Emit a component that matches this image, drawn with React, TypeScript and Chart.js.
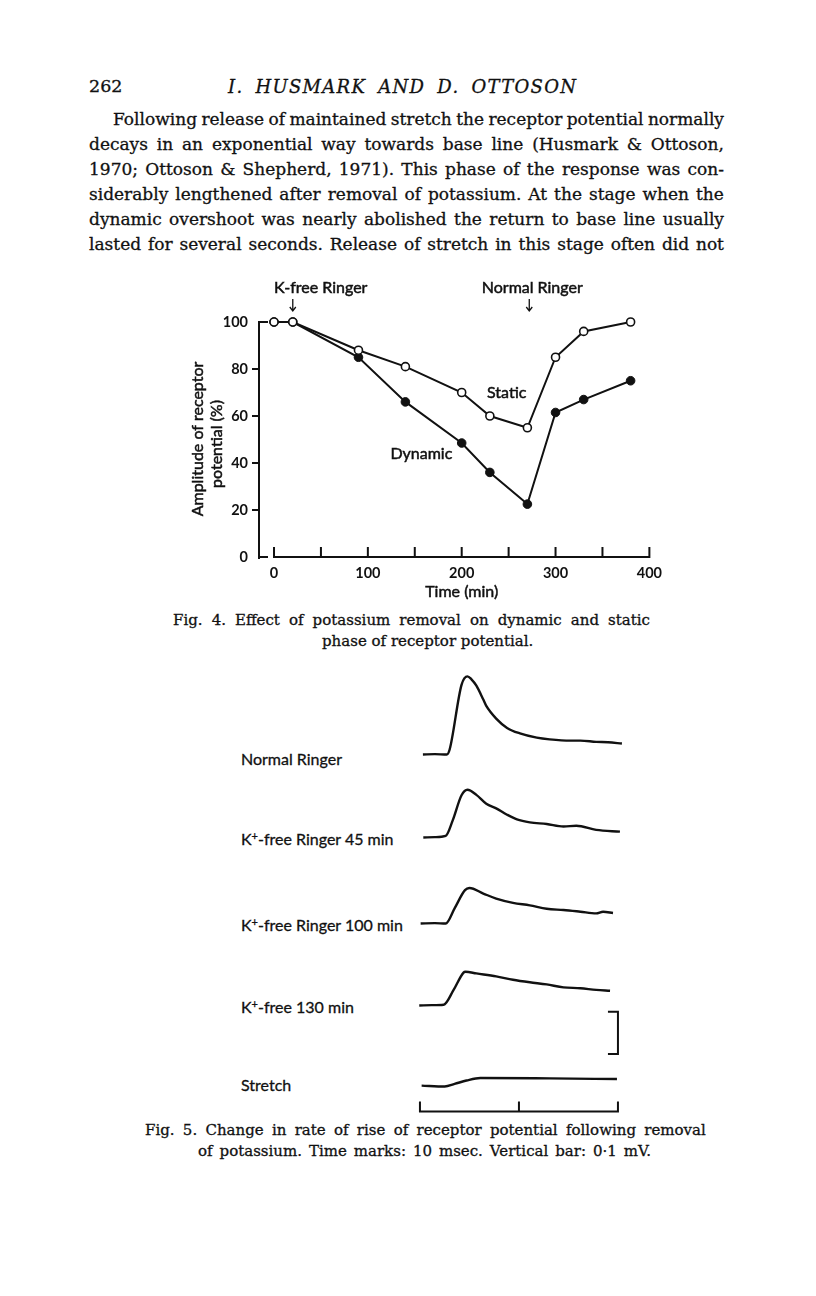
import React, { useEffect, useRef } from 'react';
import { Chart, registerables } from 'chart.js';

Chart.register(...registerables);

const INK = '#111111';
const SANS = 'Lato, "Open Sans", sans-serif';
const SERIF = '"DejaVu Serif", serif';

// ---------- Fig. 4 data ----------
const TIME_MIN = [0, 20, 90, 140, 200, 230, 270, 300, 330, 380];
const STATIC_PCT = [100, 100, 88, 81, 70, 60, 55, 85, 96, 100];
const DYNAMIC_PCT = [100, 100, 85, 66, 48.5, 36, 22.5, 61.5, 67, 75];
const X_TICKS = [0, 50, 100, 150, 200, 250, 300, 350, 400];
const X_LABELED = [0, 100, 200, 300, 400];
const Y_TICKS = [0, 20, 40, 60, 80, 100];
const K_FREE_AT_MIN = 20;
const NORMAL_AT_MIN = 272;
const STATIC_LABEL_AT = [248, 70];
const DYNAMIC_LABEL_AT = [157, 44];

// ---------- Fig. 5 data (time in ms, amplitude in mV above baseline) ----------
const NORMAL_T = [0.3, 1.5, 2.7, 3.0, 4.2, 4.8, 5.2, 5.7, 6.4, 6.7, 7.7, 8.8, 10.1, 11.8, 13.1, 15.2, 16.2, 17.8, 19.0, 20.4];
const NORMAL_MV = [0, 0.001, 0, 0.012, 0.165, 0.185, 0.178, 0.163, 0.13, 0.115, 0.085, 0.063, 0.05, 0.04, 0.036, 0.033, 0.033, 0.03, 0.029, 0.026];
const K45_T = [0.34, 1.5, 2.6, 3.3, 4.2, 4.8, 5.7, 6.7, 7.7, 8.8, 9.8, 11.1, 12.8, 14.5, 15.8, 17.8, 20.2];
const K45_MV = [0, 0.001, 0.004, 0.04, 0.1, 0.113, 0.101, 0.08, 0.069, 0.054, 0.043, 0.036, 0.032, 0.026, 0.028, 0.018, 0.014];
const K100_T = [0.07, 1.5, 2.6, 3.5, 4.55, 5.0, 6.4, 7.7, 9.4, 11.1, 12.8, 14.5, 16.2, 17.8, 18.5, 19.5];
const K100_MV = [0, 0.001, 0, 0.036, 0.079, 0.084, 0.071, 0.059, 0.049, 0.043, 0.035, 0.032, 0.028, 0.024, 0.028, 0.025];
const K130_T = [-0.07, 1.2, 2.4, 3.4, 4.4, 4.6, 5.7, 7.7, 9.4, 11.1, 12.8, 14.5, 16.2, 17.8, 19.2];
const K130_MV = [0, 0.001, 0.002, 0.037, 0.078, 0.08, 0.076, 0.069, 0.061, 0.055, 0.05, 0.043, 0.041, 0.037, 0.035];
const STRETCH_T = [0.17, 2.5, 3.5, 4.7, 6.1, 13.1, 19.9];
const STRETCH_REL = [0.002, 0, 0.006, 0.014, 0.02, 0.019, 0.0175];
const TIME_MARKS_MS = [0, 10, 20];
const SCALE_BAR_MV = 0.1;
const SCALE_BAR_BASE_MV = 0.077;

// ---------- text ----------
const BODY_LINES = [
  'Following release of maintained stretch the receptor potential normally',
  'decays in an exponential way towards base line (Husmark & Ottoson,',
  '1970; Ottoson & Shepherd, 1971). This phase of the response was con-',
  'siderably lengthened after removal of potassium. At the stage when the',
  'dynamic overshoot was nearly abolished the return to base line usually',
  'lasted for several seconds. Release of stretch in this stage often did not',
];

function heavyText(ctx: any, text: string, x: number, y: number) {
  ctx.fillText(text, x, y);
  ctx.strokeText(text, x, y);
}

const fig4Decor = {
  id: 'fig4Decor',
  afterDraw(chart: any) {
    const { ctx, chartArea } = chart;
    const x = chart.scales.x;
    const y = chart.scales.y;
    ctx.save();
    ctx.strokeStyle = INK;
    ctx.fillStyle = INK;
    ctx.lineWidth = 2;
    ctx.lineCap = 'square';
    const ax = chartArea.left;
    const y0 = y.getPixelForValue(0);
    // y axis
    ctx.beginPath();
    ctx.moveTo(ax, y.getPixelForValue(100));
    ctx.lineTo(ax, y0 + 1);
    Y_TICKS.forEach((v) => {
      const py = y.getPixelForValue(v);
      const inward = v === 0 || v === 100;
      ctx.moveTo(ax, py);
      ctx.lineTo(inward ? ax + 8 : ax - 6, py);
    });
    ctx.stroke();
    // x axis
    ctx.beginPath();
    ctx.moveTo(x.getPixelForValue(0), y0);
    ctx.lineTo(x.getPixelForValue(400), y0);
    X_TICKS.forEach((v) => {
      const px = x.getPixelForValue(v);
      ctx.moveTo(px, y0);
      ctx.lineTo(px, y0 - 9);
    });
    ctx.stroke();

    // labels
    ctx.font = `16px ${SANS}`;
    ctx.textAlign = 'center';
    ctx.textBaseline = 'middle';
    ctx.lineWidth = 0.5;
    ctx.lineCap = 'butt';
    heavyText(ctx, 'Static', x.getPixelForValue(STATIC_LABEL_AT[0]), y.getPixelForValue(STATIC_LABEL_AT[1]));
    heavyText(ctx, 'Dynamic', x.getPixelForValue(DYNAMIC_LABEL_AT[0]), y.getPixelForValue(DYNAMIC_LABEL_AT[1]));
    heavyText(ctx, 'Time (min)', x.getPixelForValue(200), chartArea.bottom + 35);

    const top = chartArea.top;
    const arrows: [number, string, number][] = [
      [K_FREE_AT_MIN, 'K-free Ringer', 28],
      [NORMAL_AT_MIN, 'Normal Ringer', 3],
    ];
    arrows.forEach(([m, label, dx]) => {
      const px = x.getPixelForValue(m);
      ctx.lineWidth = 0.5;
      heavyText(ctx, label, px + dx, top - 34);
      ctx.lineWidth = 1.3;
      ctx.beginPath();
      ctx.moveTo(px, top - 23);
      ctx.lineTo(px, top - 11);
      ctx.moveTo(px - 3, top - 15);
      ctx.lineTo(px, top - 11);
      ctx.lineTo(px + 3, top - 15);
      ctx.stroke();
    });

    // y axis title (two rotated lines)
    ctx.lineWidth = 0.5;
    ctx.save();
    ctx.translate(ax - 61, chartArea.top + 117);
    ctx.rotate(-Math.PI / 2);
    heavyText(ctx, 'Amplitude of receptor', 0, 0);
    ctx.restore();
    ctx.save();
    ctx.translate(ax - 42, chartArea.top + 122);
    ctx.rotate(-Math.PI / 2);
    heavyText(ctx, 'potential (%)', 0, 0);
    ctx.restore();
    ctx.restore();
  },
};

function Fig4() {
  const ref = useRef<HTMLCanvasElement | null>(null);
  useEffect(() => {
    if (!ref.current) return;
    const toPts = (ys: number[]) => TIME_MIN.map((t, i) => ({ x: t, y: ys[i] }));
    const chart = new Chart(ref.current, {
      type: 'line',
      data: {
        datasets: [
          {
            label: 'Static',
            data: toPts(STATIC_PCT),
            borderColor: INK,
            borderWidth: 2,
            pointRadius: 4,
            pointBorderWidth: 1.6,
            pointBackgroundColor: '#ffffff',
            pointBorderColor: INK,
            tension: 0,
            clip: false,
          },
          {
            label: 'Dynamic',
            data: toPts(DYNAMIC_PCT),
            borderColor: INK,
            borderWidth: 2,
            pointRadius: 4.3,
            pointBorderWidth: 1,
            pointBackgroundColor: INK,
            pointBorderColor: INK,
            tension: 0,
            clip: false,
          },
        ] as any,
      },
      options: {
        animation: false,
        responsive: false,
        devicePixelRatio: 1,
        layout: { padding: { top: 52, right: 20, left: 0, bottom: 0 } },
        plugins: { legend: { display: false }, tooltip: { enabled: false } },
        scales: {
          x: {
            type: 'linear',
            min: -16,
            max: 400,
            grid: { display: false, drawTicks: false },
            border: { display: false },
            afterBuildTicks: (s: any) => {
              s.ticks = X_TICKS.map((v) => ({ value: v }));
            },
            afterFit: (s: any) => {
              s.height = 48;
            },
            ticks: {
              autoSkip: false,
              maxRotation: 0,
              padding: 8,
              color: INK,
              font: { family: SANS, size: 14.5, weight: 'bold' },
              callback: (v: any) => (X_LABELED.includes(Number(v)) ? String(v) : ''),
            },
          },
          y: {
            type: 'linear',
            min: 0,
            max: 100,
            grid: { display: false, drawTicks: false },
            border: { display: false },
            afterBuildTicks: (s: any) => {
              s.ticks = Y_TICKS.map((v) => ({ value: v }));
            },
            afterFit: (s: any) => {
              s.width = 79;
            },
            ticks: {
              padding: 11,
              color: INK,
              font: { family: SANS, size: 14.5, weight: 'bold' },
            },
          },
        },
      } as any,
      plugins: [fig4Decor],
    });
    return () => chart.destroy();
  }, []);
  return (
    <canvas
      ref={ref}
      width={490}
      height={335}
      style={{ position: 'absolute', left: 180, top: 270, width: 490, height: 335 }}
    />
  );
}

// ---------- Fig. 5 ----------
const PX_PER_MS = 9.9;
const PX_PER_MV = 422.7;
const TRACE_LEFT = 415;
const TRACE_WIDTH = 216;
const T_MIN = -0.5;
const Y_MAX = 0.2;

const stretchDecor = {
  id: 'stretchDecor',
  afterDraw(chart: any) {
    const { ctx } = chart;
    const x = chart.scales.x;
    const y = chart.scales.y;
    ctx.save();
    ctx.strokeStyle = INK;
    ctx.lineWidth = 2;
    ctx.lineCap = 'butt';
    // time marks
    const by = y.getPixelForValue(0) + 25;
    const x0 = x.getPixelForValue(TIME_MARKS_MS[0]);
    const x1 = x.getPixelForValue(TIME_MARKS_MS[TIME_MARKS_MS.length - 1]);
    ctx.beginPath();
    ctx.moveTo(x0, by);
    ctx.lineTo(x1 + 1, by);
    TIME_MARKS_MS.forEach((m) => {
      const px = x.getPixelForValue(m);
      ctx.moveTo(px, by + 1);
      ctx.lineTo(px, by - 10);
    });
    ctx.stroke();
    // vertical scale bar
    const bx = x.getPixelForValue(20);
    const yb = y.getPixelForValue(SCALE_BAR_BASE_MV);
    const yt = y.getPixelForValue(SCALE_BAR_BASE_MV + SCALE_BAR_MV);
    ctx.beginPath();
    ctx.moveTo(bx - 10, yt);
    ctx.lineTo(bx, yt);
    ctx.lineTo(bx, yb);
    ctx.lineTo(bx - 10, yb);
    ctx.stroke();
    ctx.restore();
  },
};

function Trace(props: { t: number[]; v: number[]; baseline: number; yMin: number; decor?: any }) {
  const { t, v, baseline, yMin, decor } = props;
  const ref = useRef<HTMLCanvasElement | null>(null);
  const height = Math.round((Y_MAX - yMin) * PX_PER_MV);
  const top = baseline - Y_MAX * PX_PER_MV;
  useEffect(() => {
    if (!ref.current) return;
    const chart = new Chart(ref.current, {
      type: 'line',
      data: {
        datasets: [
          {
            data: t.map((tt, i) => ({ x: tt, y: v[i] })),
            borderColor: INK,
            borderWidth: 2.4,
            pointRadius: 0,
            cubicInterpolationMode: 'monotone',
            clip: false,
          },
        ] as any,
      },
      options: {
        animation: false,
        responsive: false,
        devicePixelRatio: 1,
        layout: { padding: 0 },
        plugins: { legend: { display: false }, tooltip: { enabled: false } },
        scales: {
          x: { type: 'linear', display: false, min: T_MIN, max: T_MIN + TRACE_WIDTH / PX_PER_MS },
          y: { type: 'linear', display: false, min: yMin, max: Y_MAX },
        },
      } as any,
      plugins: decor ? [decor] : [],
    });
    return () => chart.destroy();
  }, []);
  return (
    <canvas
      ref={ref}
      width={TRACE_WIDTH}
      height={height}
      style={{ position: 'absolute', left: TRACE_LEFT, top, width: TRACE_WIDTH, height }}
    />
  );
}

const abs = (left: number, top: number, extra: React.CSSProperties = {}): React.CSSProperties => ({
  position: 'absolute',
  left,
  top,
  whiteSpace: 'nowrap',
  color: INK,
  ...extra,
});

const SERIF_INK: React.CSSProperties = { fontFamily: SERIF, WebkitTextStroke: '0.3px #111' } as any;

function Justified(props: { left: number; top: number; width: number; size: number; text: string; lh?: number }) {
  const words = props.text.split(' ');
  return (
    <div
      style={{
        position: 'absolute',
        left: props.left,
        top: props.top,
        width: props.width,
        display: 'flex',
        justifyContent: 'space-between',
        whiteSpace: 'nowrap',
        fontSize: props.size,
        lineHeight: `${props.lh ?? 25}px`,
        color: INK,
        ...SERIF_INK,
      }}
    >
      {words.map((w, i) => (
        <span key={i}>{w}</span>
      ))}
    </div>
  );
}

const labelStyle = (top: number): React.CSSProperties =>
  abs(241, top, { fontFamily: SANS, fontSize: 16, lineHeight: '20px', WebkitTextStroke: '0.3px #111' } as any);

const sup = <sup style={{ fontSize: 11, verticalAlign: 'top', lineHeight: '14px' }}>+</sup>;

export default function App() {
  return (
    <div style={{ position: 'absolute', left: 0, top: 0, width: 816, height: 1296, background: '#fff', overflow: 'hidden' }}>
      <div style={abs(89, 74, { ...SERIF_INK, fontSize: 17.5, lineHeight: '25px' })}>262</div>
      <div
        style={abs(228, 74, {
          ...SERIF_INK,
          fontStyle: 'italic',
          fontSize: 18,
          lineHeight: '25px',
          letterSpacing: 1.3,
          wordSpacing: 5,
        })}
      >
        I. HUSMARK AND D. OTTOSON
      </div>
      {BODY_LINES.map((line, i) => (
        <Justified key={i} left={i === 0 ? 113 : 89} top={107 + i * 25} width={i === 0 ? 611 : 635} size={17} text={line} />
      ))}

      <Fig4 />

      <Justified left={173} top={610} width={477} size={15} text="Fig. 4. Effect of potassium removal on dynamic and static" lh={20} />
      <div style={abs(322, 631, { ...SERIF_INK, fontSize: 15, lineHeight: '20px' })}>phase of receptor potential.</div>

      <Trace t={NORMAL_T} v={NORMAL_MV} baseline={755} yMin={-0.02} />
      <Trace t={K45_T} v={K45_MV} baseline={837.7} yMin={-0.02} />
      <Trace t={K100_T} v={K100_MV} baseline={923.3} yMin={-0.02} />
      <Trace t={K130_T} v={K130_MV} baseline={1005.7} yMin={-0.02} />
      <Trace t={STRETCH_T} v={STRETCH_REL} baseline={1086.7} yMin={-0.07} decor={stretchDecor} />

      <div style={labelStyle(749)}>Normal Ringer</div>
      <div style={labelStyle(829)}>K{sup}-free Ringer 45 min</div>
      <div style={labelStyle(915)}>K{sup}-free Ringer 100 min</div>
      <div style={labelStyle(997)}>K{sup}-free 130 min</div>
      <div style={labelStyle(1075)}>Stretch</div>

      <Justified left={145} top={1120} width={561} size={15} text="Fig. 5. Change in rate of rise of receptor potential following removal" lh={20} />
      <Justified left={198} top={1141} width={453} size={15} text="of potassium. Time marks: 10 msec. Vertical bar: 0·1 mV." lh={20} />
    </div>
  );
}
